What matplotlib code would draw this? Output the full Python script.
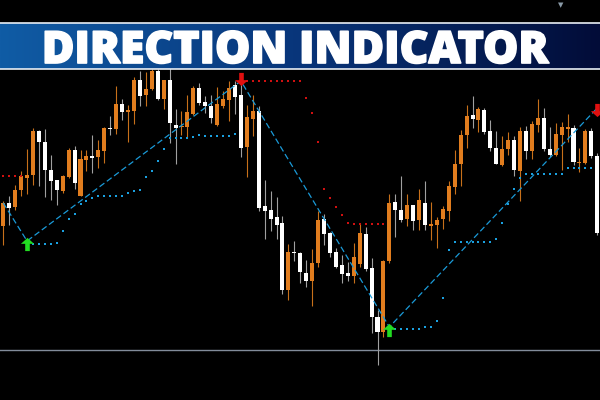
import numpy as np
import matplotlib.pyplot as plt
import matplotlib.patheffects as pe
from matplotlib.path import Path
from matplotlib.colors import LinearSegmentedColormap

plt.rcParams['lines.scale_dashes'] = False

opens = [226, 203, 207, 190, 178, 175, 131, 142, 170, 180,
         191, 177, 150, 196, 160, 156, 157, 151, 128, 129,
         104, 112, 111, 80, 95, 89, 71, 99, 80, 125,
         127, 127, 114, 88, 102, 106, 125, 106, 100, 85,
         95, 147, 119, 111, 206, 210, 217, 223, 290, 252,
         253, 273, 281, 263, 219, 233, 252, 265, 273, 276,
         264, 234, 268, 317, 332, 261, 202, 210, 219, 205,
         220, 203, 226, 225, 219, 211, 187, 164, 135, 115,
         120, 110, 131, 148, 165, 149, 140, 171, 131, 151,
         125, 118, 149, 155, 135, 129, 128, 163, 163, 131,
         156]
highs = [201, 196, 185, 171, 149, 128, 130, 129, 155, 180,
         175, 148, 146, 150, 150, 135, 140, 127, 116, 86,
         99, 105, 77, 71, 72, 69, 69, 80, 68, 109,
         111, 95, 86, 83, 96, 95, 87, 91, 81, 81,
         81, 105, 95, 106, 180, 191, 197, 216, 244, 241,
         252, 260, 249, 211, 214, 232, 248, 255, 262, 243,
         223, 227, 258, 310, 260, 194, 194, 176, 194, 205,
         189, 181, 202, 217, 206, 181, 150, 130, 105, 96,
         107, 108, 120, 131, 136, 132, 136, 127, 126, 121,
         99, 108, 127, 123, 122, 114, 125, 148, 129, 128,
         153]
lows = [245, 225, 210, 196, 194, 185, 186, 197, 200, 205,
        193, 178, 189, 196, 171, 173, 168, 163, 135, 134,
        120, 142, 124, 106, 106, 90, 100, 109, 143, 164,
        135, 138, 115, 105, 113, 123, 126, 108, 121, 114,
        157, 177, 136, 211, 239, 231, 239, 294, 300, 261,
        283, 287, 306, 267, 245, 257, 268, 283, 281, 283,
        267, 271, 333, 365, 337, 263, 237, 222, 226, 230,
        230, 230, 240, 248, 229, 221, 194, 186, 148, 128,
        132, 134, 151, 164, 166, 155, 176, 201, 159, 159,
        132, 151, 157, 156, 170, 142, 165, 172, 164, 158,
        235]
closes = [203, 207.5, 190, 176, 175, 131, 142, 170, 181, 190,
          176, 150, 183, 159, 156, 158, 150, 128, 129, 104,
          112, 110, 80, 96, 89, 71, 99, 80, 123, 128,
          126, 112, 88, 103, 106, 118, 104, 99, 88, 97,
          148, 117, 111, 208, 211, 219, 225, 290, 252, 253,
          272, 281, 263, 220, 234, 253, 267, 274, 276, 257,
          233, 269, 317, 332, 261, 203, 210, 220, 205, 221,
          200, 225, 224, 220, 209, 186, 164, 135, 116, 119,
          109, 132, 148, 164, 149, 140, 170, 131, 151, 124,
          118, 149, 155, 134, 127, 127, 162, 162, 131, 156,
          233]

# blue support dots
sup_idx = list(range(5, 40)) + list(range(66, 100))
sup_lvl = [244, 244, 244, 244, 243, 231, 219, 214, 204, 201,
           198, 196, 196, 196, 196, 196, 193, 191, 189.5, 177,
           171, 161, 149, 138, 138, 138, 138, 137, 135, 136,
           136, 136, 136, 136, 134,
           329, 329, 329, 329, 329, 327, 327, 321, 298, 250,
           242, 242, 242, 242, 242, 242, 242, 239, 223, 204,
           189, 177.5, 174, 174, 174, 174, 174, 174, 174, 168,
           168, 168, 168, 168]
# red resistance dots
res_idx = list(range(0, 4)) + list(range(41, 65))
res_lvl = [176, 176, 176, 176,
           81, 81, 81, 81, 81, 81, 81, 81, 81, 81,
           98, 113, 142, 189, 198, 207, 215, 223,
           224, 224, 224, 224, 224, 224]

# zigzag swing points and signal arrows
zz_idx = [0, 4, 40, 65, 100]
zz_lvl = [203, 241, 81, 327, 108]
buy_idx = [4, 65]
buy_lvl = [244, 330]
sell_idx = [40, 100]
sell_lvl = [79, 110]
base_level = 350

ORANGE = '#e17d1e'
fig = plt.figure(figsize=(6, 4), dpi=100, facecolor='black')
ax = fig.add_axes([0, 0, 1, 1])
ax.set_facecolor('black')
ax.set_xlim(-0.556, 100.46)
ax.set_ylim(400, 0)
ax.axis('off')

x = np.arange(len(opens))
o = np.array(opens, dtype=float)
c = np.array(closes, dtype=float)
up = c < o
body_col = [ORANGE if u else 'white' for u in up]
wick_col = ['#c8701a' if u else '#a0a0a0' for u in up]
ax.vlines(x, highs, lows, colors=wick_col, lw=0.8, zorder=2)
top = np.minimum(o, c)
h = np.maximum(np.abs(o - c), 1.2)
ax.bar(x, h, bottom=top, width=0.68, color=body_col, linewidth=0, zorder=3)

ax.axhline(base_level, color='#828c9b', lw=1.0, zorder=1)

ax.plot(zz_idx, zz_lvl, color='#1a9ad8', lw=0.9, dashes=(4.3, 2.2), zorder=4)
ax.plot(sup_idx, sup_lvl, ls='none', marker='s', ms=1.8, color='#1aa0e0', mew=0, zorder=5)
ax.plot(res_idx, res_lvl, ls='none', marker='s', ms=1.8, color='#d01010', mew=0, zorder=5)

arrow_up = Path([(0, 1), (1, 0.1), (0.35, 0.1), (0.35, -1), (-0.35, -1),
                 (-0.35, 0.1), (-1, 0.1), (0, 1)])
arrow_dn = Path([(0, -1), (1, -0.1), (0.35, -0.1), (0.35, 1), (-0.35, 1),
                 (-0.35, -0.1), (-1, -0.1), (0, -1)])
ax.plot(buy_idx, buy_lvl, ls='none', marker=arrow_up, ms=9.5, color='#22dd22', mew=0, zorder=6)
ax.plot(sell_idx, sell_lvl, ls='none', marker=arrow_dn, ms=9.5, color='#e01010', mew=0, zorder=6)

# title banner
ban = fig.add_axes([0, 1 - 69 / 400, 1, 46 / 400])
cmap = LinearSegmentedColormap.from_list('ban', ['#105ca5', '#08357a', '#020c38'])
ban.imshow(np.linspace(0, 1, 256)[None, :], aspect='auto', cmap=cmap, extent=[0, 1, 0, 1])
ban.set_xlim(0, 1)
ban.set_ylim(0, 1)
ban.axis('off')
ban.axhline(1, color='#e8eef5', lw=1.2, clip_on=False)
ban.axhline(0, color='#e8eef5', lw=1.2, clip_on=False)
ban.text(0.4917, 0.13, 'DIRECTION INDICATOR', ha='center', va='baseline',
         color='white', fontsize=32, fontweight='heavy', family='Open Sans',
         path_effects=[pe.withStroke(linewidth=1.2, foreground='white')])

fig.text(0.935, 0.995, '\u25bc', ha='center', va='top', fontsize=5, color='#8a9aa8')

fig.savefig('out.png', dpi=100, facecolor='black')
